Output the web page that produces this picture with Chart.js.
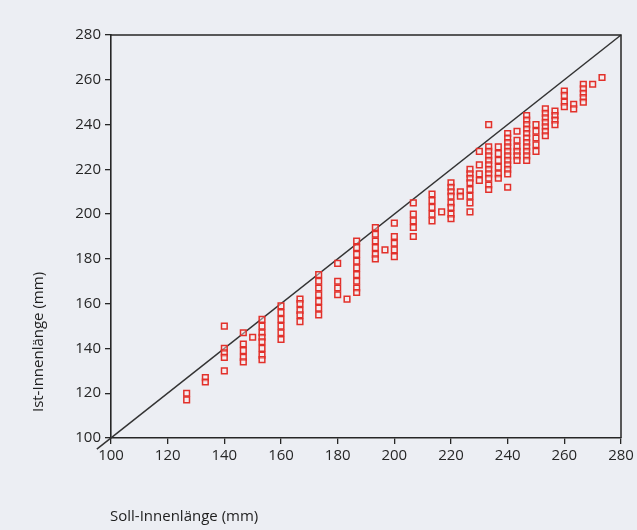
<!DOCTYPE html>
<html>
<head>
<meta charset="utf-8">
<script src="https://cdn.jsdelivr.net/npm/chart.js@4"></script>
<style>
  html, body { margin: 0; padding: 0; background: #eceef3; }
  #wrap { width: 637px; height: 530px; }
</style>
</head>
<body>
<div id="wrap"><canvas id="chart" width="637" height="530"></canvas></div>
<script>
// Soll-Innenlänge (x) and Ist-Innenlänge (y)
const sollLaenge = [
  126.7, 126.7,
  133.3, 133.3,
  140, 140, 140, 140, 140,
  146.7, 146.7, 146.7, 146.7, 146.7,
  150,
  153.3, 153.3, 153.3, 153.3, 153.3, 153.3, 153.3, 153.3,
  160, 160, 160, 160, 160, 160,
  166.7, 166.7, 166.7, 166.7, 166.7,
  173.3, 173.3, 173.3, 173.3, 173.3, 173.3, 173.3,
  180, 180, 180, 180,
  183.3,
  186.7, 186.7, 186.7, 186.7, 186.7, 186.7, 186.7, 186.7, 186.7,
  193.3, 193.3, 193.3, 193.3, 193.3, 193.3,
  196.7,
  200, 200, 200, 200, 200,
  206.7, 206.7, 206.7, 206.7, 206.7,
  213.3, 213.3, 213.3, 213.3, 213.3,
  216.7,
  220, 220, 220, 220, 220, 220, 220, 220,
  223.3, 223.3,
  226.7, 226.7, 226.7, 226.7, 226.7, 226.7, 226.7, 226.7,
  230, 230, 230, 230,
  233.3, 233.3, 233.3, 233.3, 233.3, 233.3, 233.3, 233.3, 233.3, 233.3, 233.3,
  236.7, 236.7, 236.7, 236.7, 236.7, 236.7,
  240, 240, 240, 240, 240, 240, 240, 240, 240, 240, 240,
  243.3, 243.3, 243.3, 243.3, 243.3, 243.3,
  246.7, 246.7, 246.7, 246.7, 246.7, 246.7, 246.7, 246.7, 246.7, 246.7, 246.7,
  250, 250, 250, 250, 250,
  253.3, 253.3, 253.3, 253.3, 253.3, 253.3, 253.3,
  256.7, 256.7, 256.7, 256.7,
  260, 260, 260, 260,
  263.3, 263.3,
  266.7, 266.7, 266.7, 266.7, 266.7,
  270,
  273.3
];
const istLaenge = [
  120, 117,
  127, 125,
  150, 140, 138, 136, 130,
  147, 142, 139, 136, 134,
  145,
  153, 150, 147, 145, 143, 140, 137, 135,
  159, 156, 153, 150, 147, 144,
  162, 160, 157, 155, 152,
  173, 170, 167, 164, 161, 158, 155,
  178, 170, 167, 164,
  162,
  188, 185, 182, 179, 176, 173, 170, 167, 165,
  194, 191, 188, 185, 182, 180,
  184,
  196, 190, 187, 184, 181,
  205, 200, 197, 194, 190,
  209, 206, 203, 200, 197,
  201,
  214, 212, 210, 208, 205, 203, 200, 198,
  210, 208,
  220, 218, 216, 214, 211, 208, 205, 201,
  228, 222, 218, 215,
  240, 230, 228, 226, 224, 222, 220, 218, 216, 213, 211,
  230, 227, 224, 221, 218, 216,
  236, 234, 232, 230, 228, 226, 224, 222, 220, 218, 212,
  237, 233, 230, 228, 226, 224,
  244, 242, 240, 238, 236, 234, 232, 230, 228, 226, 224,
  240, 237, 234, 231, 228,
  247, 245, 243, 241, 239, 237, 235,
  246, 244, 242, 240,
  255, 253, 250, 248,
  249, 247,
  258, 256, 254, 252, 250,
  258,
  261
];
// identity line Ist = Soll
const diagonal = [95, 280];
const axisTicks = [100, 120, 140, 160, 180, 200, 220, 240, 260, 280];
const xTitle = "Soll-Innenlänge (mm)";
const yTitle = "Ist-Innenlänge (mm)";

const FONT = "'Open Sans', 'DejaVu Sans', sans-serif";
const INK = "#262626";

const boxAndTitles = {
  id: "boxAndTitles",
  afterDraw(chart) {
    const { ctx, chartArea } = chart;
    ctx.save();
    ctx.strokeStyle = INK;
    ctx.lineWidth = 1.5;
    ctx.beginPath();
    ctx.moveTo(chartArea.left, chartArea.top);
    ctx.lineTo(chartArea.right, chartArea.top);
    ctx.lineTo(chartArea.right, chartArea.bottom);
    ctx.stroke();

    ctx.fillStyle = "#1e1e1e";
    ctx.font = "15px " + FONT;
    ctx.textBaseline = "middle";
    ctx.textAlign = "left";
    ctx.fillText(xTitle, 110, 517);

    ctx.translate(39, 342);
    ctx.rotate(-Math.PI / 2);
    ctx.textAlign = "center";
    ctx.fillText(yTitle, 0, 0);
    ctx.restore();
  }
};

const points = sollLaenge.map((x, i) => ({ x: x, y: istLaenge[i] }));

new Chart(document.getElementById("chart"), {
  type: "scatter",
  data: {
    datasets: [
      {
        label: "Messwerte",
        data: points,
        pointStyle: "rect",
        pointRadius: 4,
        pointHoverRadius: 4,
        borderColor: "#e2302a",
        backgroundColor: "rgba(255,235,235,0.45)",
        pointBorderWidth: 1.5,
        order: 1
      },
      {
        type: "line",
        label: "Soll = Ist",
        data: diagonal.map(v => ({ x: v, y: v })),
        borderColor: "#333333",
        borderWidth: 1.5,
        pointRadius: 0,
        fill: false,
        clip: false,
        order: 2
      }
    ]
  },
  options: {
    responsive: false,
    animation: false,
    layout: { padding: { left: 60, right: 16, top: 35, bottom: 32 } },
    scales: {
      x: {
        type: "linear",
        min: 100,
        max: 280,
        afterBuildTicks: s => { s.ticks = axisTicks.map(v => ({ value: v })); },
        afterFit: s => { s.height = 60; },
        grid: { drawOnChartArea: false, drawTicks: true, tickLength: 6, color: INK, lineWidth: 1.3 },
        border: { display: true, color: INK, width: 1.6 },
        ticks: { color: "#262626", font: { family: FONT, size: 15 }, padding: 3, maxRotation: 0 }
      },
      y: {
        type: "linear",
        min: 100,
        max: 280,
        afterBuildTicks: s => { s.ticks = axisTicks.map(v => ({ value: v })); },
        afterFit: s => { s.width = 51; },
        grid: { drawOnChartArea: false, drawTicks: true, tickLength: 6, color: INK, lineWidth: 1.3 },
        border: { display: true, color: INK, width: 1.6 },
        ticks: { color: "#262626", font: { family: FONT, size: 15 }, padding: 4 }
      }
    },
    plugins: {
      legend: { display: false },
      tooltip: { enabled: false }
    }
  },
  plugins: [boxAndTitles]
});
</script>
</body>
</html>
